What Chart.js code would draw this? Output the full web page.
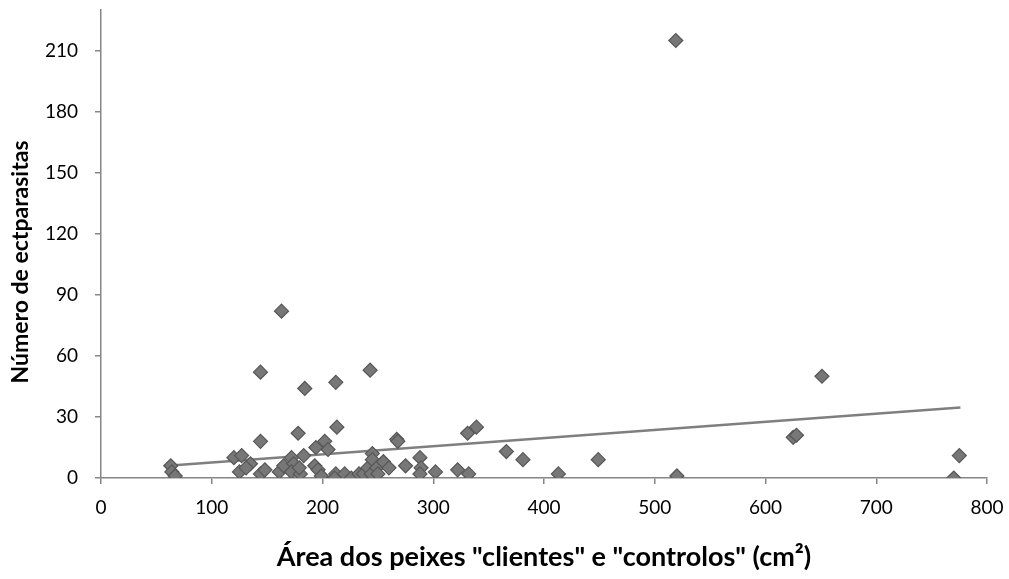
<!DOCTYPE html>
<html>
<head>
<meta charset="utf-8">
<script src="https://cdn.jsdelivr.net/npm/chart.js@4/dist/chart.umd.min.js"></script>
<style>
  html, body { margin: 0; padding: 0; background: #fff; }
  #wrap { width: 1009px; height: 579px; }
</style>
</head>
<body>
<div id="wrap"><canvas id="c" width="1009" height="579"></canvas></div>
<script>
// Area of fish (cm²)
const areaX = [63, 64, 67, 120, 127, 135, 125, 131, 144, 144, 144, 148, 161, 163, 165, 172, 174, 172,
  178, 180, 179, 183, 184, 194, 202, 205, 193, 196, 199, 212, 213, 212, 211, 220, 226, 233, 237,
  243, 241, 244, 245, 245, 249, 250, 255, 260, 267, 268, 275, 288, 289, 288, 302, 322, 331, 332,
  339, 366, 381, 413, 449, 519, 520, 625, 628, 651, 770, 775];
// Number of ectoparasites
const parasites = [6, 3, 1, 10, 11, 7, 3, 5, 52, 18, 2, 4, 3, 82, 6, 10, 7, 3,
  22, 2, 5, 11, 44, 15, 18, 14, 6, 4, 1, 47, 25, 2, 0, 2, 0, 2, 2,
  53, 5, 2, 12, 9, 5, 2, 8, 5, 19, 18, 6, 10, 5, 2, 3, 4, 22, 2,
  25, 13, 9, 2, 9, 215, 1, 20, 21, 50, 0, 11];
// Trend line endpoints
const trendX = [63, 776];
const trendY = [6.1, 34.7];
// Axis ticks
const xTicks = [0, 100, 200, 300, 400, 500, 600, 700, 800];
const yTicks = [0, 30, 60, 90, 120, 150, 180, 210];
const xTitle = 'Área dos peixes "clientes" e "controlos" (cm²)';
const yTitle = 'Número de ectparasitas';

const pts = areaX.map((x, i) => ({ x: x, y: parasites[i] }));
const trend = trendX.map((x, i) => ({ x: x, y: trendY[i] }));

const axisColor = '#868686';
const fontFamily = 'Lato, "Open Sans", sans-serif';

const yTitlePlugin = {
  id: 'yTitle',
  afterDraw(chart) {
    const ctx = chart.ctx;
    ctx.save();
    ctx.translate(21, 262);
    ctx.rotate(-Math.PI / 2);
    ctx.textAlign = 'center';
    ctx.textBaseline = 'middle';
    ctx.fillStyle = '#000';
    ctx.font = 'bold 23px ' + fontFamily;
    ctx.fillText(yTitle, 0, 0);
    ctx.restore();
  }
};

new Chart(document.getElementById('c'), {
  type: 'scatter',
  data: {
    datasets: [
      {
        type: 'line',
        data: trend,
        borderColor: '#7f7f7f',
        borderWidth: 2.5,
        pointRadius: 0,
        fill: false,
        order: 2
      },
      {
        data: pts,
        pointStyle: 'rectRot',
        pointRadius: 7,
        pointHoverRadius: 7,
        backgroundColor: '#777777',
        borderColor: '#575757',
        borderWidth: 1.2,
        order: 1
      }
    ]
  },
  plugins: [yTitlePlugin],
  options: {
    responsive: false,
    animation: false,
    layout: { padding: { left: 0, right: 22, top: 10, bottom: 0 } },
    plugins: { legend: { display: false }, tooltip: { enabled: false } },
    scales: {
      x: {
        type: 'linear',
        min: xTicks[0],
        max: xTicks[xTicks.length - 1],
        afterBuildTicks: s => { s.ticks = xTicks.map(v => ({ value: v })); },
        afterFit: s => { s.height = 101; s.paddingLeft = 0; s.paddingRight = 0; },
        border: { display: true, color: axisColor, width: 1.5 },
        grid: { display: true, drawOnChartArea: false, drawTicks: true, tickLength: 6, color: axisColor, lineWidth: 1.5 },
        ticks: { color: '#000', font: { family: fontFamily, size: 19 }, padding: 12, maxRotation: 0 },
        title: {
          display: true,
          text: xTitle,
          color: '#000',
          font: { family: fontFamily, size: 27, weight: 'bold' },
          padding: { top: 0, bottom: 6 }
        }
      },
      y: {
        type: 'linear',
        min: 0,
        max: 230,
        afterBuildTicks: s => { s.ticks = yTicks.map(v => ({ value: v })); },
        afterFit: s => { s.width = 101; s.paddingTop = 0; s.paddingBottom = 0; },
        border: { display: true, color: axisColor, width: 1.5 },
        grid: { display: true, drawOnChartArea: false, drawTicks: true, tickLength: 6, color: axisColor, lineWidth: 1.5 },
        ticks: { color: '#000', font: { family: fontFamily, size: 19 }, padding: 17 },
        title: { display: false }
      }
    }
  }
});
</script>
</body>
</html>
